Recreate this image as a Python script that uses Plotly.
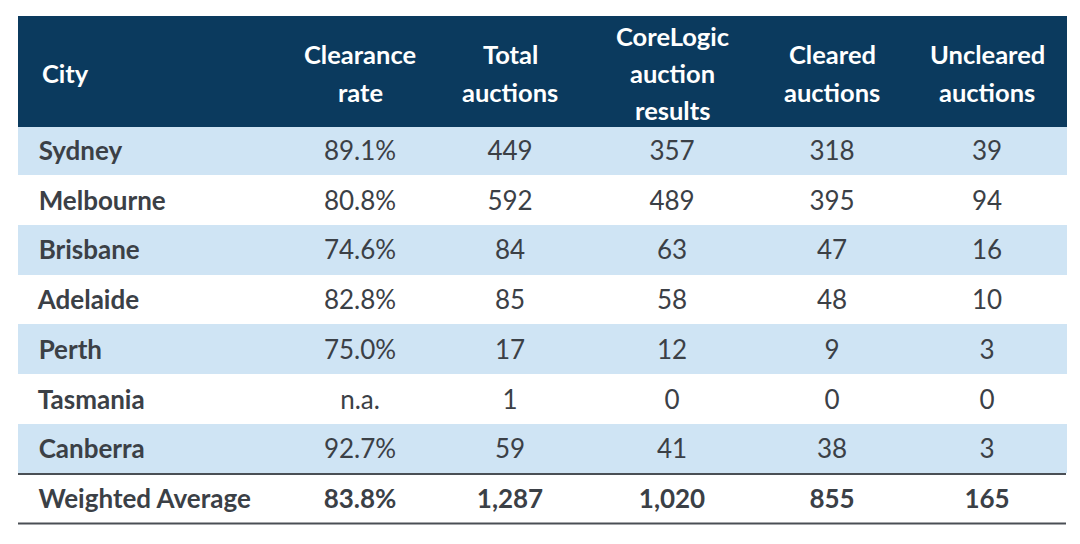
from plotly import graph_objects as go

cities = ["Sydney", "Melbourne", "Brisbane", "Adelaide", "Perth", "Tasmania", "Canberra"]
clearance_rate = ["89.1%", "80.8%", "74.6%", "82.8%", "75.0%", "n.a.", "92.7%"]
total_auctions = [449, 592, 84, 85, 17, 1, 59]
corelogic_results = [357, 489, 63, 58, 12, 0, 41]
cleared = [318, 395, 47, 48, 9, 0, 38]
uncleared = [39, 94, 16, 10, 3, 0, 3]

avg_label = "Weighted Average"
avg_values = ["83.8%", "1,287", "1,020", "855", "165"]

headers = [["City"], ["Clearance", "rate"], ["Total", "auctions"], ["CoreLogic", "auction", "results"],
           ["Cleared", "auctions"], ["Uncleared", "auctions"]]

NAVY = "#0b3a5e"
BLUE = "#cfe4f4"
TEXT = "#3b4046"
FONT = "Lato"

W, H = 1080, 544
OFF = 8  # page body margin
LEFT, RIGHT, TOP = 18, 1066, 16
col_w = [270, 144, 156, 168, 152, 158]
HEAD_H = 110
ROW_H = 49.7
HEAD_LINE = 37


def px(x):
    return (x - OFF) / W


def py(y):
    return 1 - (y - OFF) / H


def b(s):
    return f"<b>{s}</b>"


def r(s):
    return f"<span>{s}</span>"


indent = "\u00a0\u00a0"
cols = [
    [b(indent + c) for c in cities] + [b(indent + avg_label)],
    [r(v) for v in clearance_rate] + [b(avg_values[0])],
    [r(v) for v in total_auctions] + [b(avg_values[1])],
    [r(v) for v in corelogic_results] + [b(avg_values[2])],
    [r(v) for v in cleared] + [b(avg_values[3])],
    [r(v) for v in uncleared] + [b(avg_values[4])],
]
n_rows = len(cols[0])
row_fill = [BLUE if i % 2 == 0 and i < len(cities) else "white" for i in range(n_rows)]

fig = go.Figure(data=go.Table(
    domain=dict(x=[px(LEFT), px(RIGHT)], y=[0, py(TOP)]),
    columnwidth=col_w,
    header=dict(values=[""] * len(headers),
                fill_color=NAVY,
                line=dict(color=NAVY, width=1),
                height=HEAD_H),
    cells=dict(values=cols,
               fill_color=[row_fill] * 6,
               line=dict(color=[row_fill] * 6, width=1),
               align=["left"] + ["center"] * 5,
               font=dict(family=FONT, size=26, color=TEXT),
               height=ROW_H),
))

# header labels, each line centred on its column
edges = [LEFT]
for w in col_w:
    edges.append(edges[-1] + w * (RIGHT - LEFT) / sum(col_w))
mid = TOP + HEAD_H / 2 + 2
for i, lines in enumerate(headers):
    if i == 0:
        x, anchor = LEFT + 22, "left"
    else:
        x, anchor = (edges[i] + edges[i + 1]) / 2, "center"
    for k, line in enumerate(lines):
        y = mid + (k - (len(lines) - 1) / 2) * HEAD_LINE
        fig.add_annotation(x=px(x), y=py(y), xref="paper", yref="paper",
                           text=f"<b>{line}</b>", showarrow=False, xanchor=anchor, yanchor="middle",
                           font=dict(family=FONT, size=25.5, color="white"))

# rules above and below the weighted average row
for y in [TOP + HEAD_H + 7 * ROW_H, TOP + HEAD_H + 8 * ROW_H]:
    fig.add_shape(type="line", xref="paper", yref="paper", x0=px(LEFT), x1=px(RIGHT),
                  y0=py(y), y1=py(y), line=dict(color="#4a4f55", width=2))

fig.update_layout(width=W, height=H, margin=dict(l=0, r=0, t=0, b=0),
                  paper_bgcolor="white")
fig.write_html("out.html")
